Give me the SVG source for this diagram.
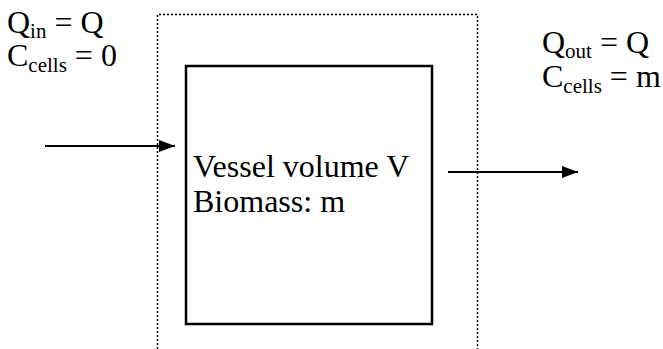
<svg xmlns="http://www.w3.org/2000/svg" width="663" height="349" viewBox="0 0 663 349">
<defs>
<style>
.t{font-family:"Liberation Serif","Times New Roman",serif;font-size:32px;fill:#000}
.s{font-size:21px}
.box{fill:none;stroke:#000;stroke-width:2.5}
.dot{fill:none;stroke:#000;stroke-width:1.5;stroke-dasharray:2 2}
.arr{fill:none;stroke:#000;stroke-width:2}
</style>
<marker id="ah" markerWidth="16" markerHeight="12" refX="16" refY="6" orient="auto" markerUnits="userSpaceOnUse">
<path d="M0,0 L16,6 L0,12 Z" fill="#000"/>
</marker>
</defs>
<g id="boundary">
<path class="dot" d="M157.5,349 V14.5 H477.5 V349"/>
</g>
<g id="vessel">
<rect class="box" x="186" y="66" width="246" height="258"/>
<text class="t" x="193" y="177">Vessel volume V</text>
<text class="t" x="193" y="212">Biomass: m</text>
</g>
<g id="inlet">
<text class="t" x="7" y="33">Q<tspan class="s" dy="5">in</tspan><tspan dy="-5"> = Q</tspan></text>
<text class="t" x="7" y="66">C<tspan class="s" dy="6">cells</tspan><tspan dy="-6"> = 0</tspan></text>
</g>
<g id="outlet">
<text class="t" x="542" y="53">Q<tspan class="s" dy="5">out</tspan><tspan dy="-5"> = Q</tspan></text>
<text class="t" x="542" y="87">C<tspan class="s" dy="6">cells</tspan><tspan dy="-6"> = m</tspan></text>
</g>
<g id="connectors">
<line class="arr" x1="45" y1="146" x2="175" y2="146" marker-end="url(#ah)"/>
<line class="arr" x1="448" y1="172" x2="578" y2="172" marker-end="url(#ah)"/>
</g>
</svg>
